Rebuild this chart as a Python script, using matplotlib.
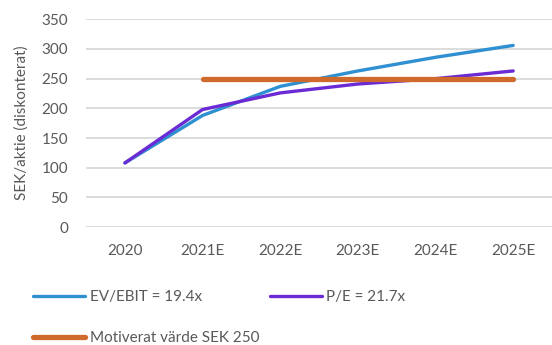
import matplotlib.pyplot as plt
from matplotlib.lines import Line2D

output = "out.png"
fz = 11

years = ['2020', '2021E', '2022E', '2023E', '2024E', '2025E']
ev_ebit = [108, 188, 237, 263, 286, 306]
pe = [108, 198, 226, 241, 250, 263]
target_years = ['2021E', '2022E', '2023E', '2024E', '2025E']
target = [250, 250, 250, 250, 250]

c_ev = '#2E8FD1'
c_pe = '#6A2BD4'
c_target = '#D0692C'
c_text = '#595959'

plt.rcParams['font.family'] = ['Lato', 'DejaVu Sans']

fig = plt.figure(figsize=(5.52, 3.45), dpi=100)
ax = fig.add_axes([0.156, 0.342, 0.844, 0.602])

x = range(len(years))
xt = [years.index(y) for y in target_years]

ax.plot(x, ev_ebit, color=c_ev, linewidth=2.4, solid_capstyle='round', zorder=3)
ax.plot(x, pe, color=c_pe, linewidth=2.4, solid_capstyle='round', zorder=3)
ax.plot(xt, target, color=c_target, linewidth=3.8, solid_capstyle='round', zorder=4)

ax.set_xlim(-0.5, len(years) - 0.5)
ax.set_ylim(0, 350)
ax.set_yticks(range(0, 351, 50))
ax.set_xticks(list(x))
ax.set_xticklabels(years)
ax.grid(axis='y', color='#D9D9D9', linewidth=1.3)
ax.set_axisbelow(True)
for s in ax.spines.values():
    s.set_visible(False)
ax.tick_params(length=0, labelsize=fz, colors=c_text)
ax.tick_params(axis='y', pad=13)
ax.tick_params(axis='x', pad=12)
ax.set_ylabel('SEK/aktie (diskonterat)', fontsize=fz, color=c_text, labelpad=9)

# legend: two columns, EV/EBIT + Motiverat in first column
handles = [
    Line2D([], [], color=c_ev, linewidth=2.4, solid_capstyle='round'),
    Line2D([], [], color=c_target, linewidth=3.8, solid_capstyle='round'),
    Line2D([], [], color=c_pe, linewidth=2.4, solid_capstyle='round'),
]
labels = ['EV/EBIT = 19.4x', 'Motiverat värde SEK 250', 'P/E = 21.7x']
leg = fig.legend(handles, labels, ncol=2, loc='upper left', bbox_to_anchor=(0.06, 0.158),
                 frameon=False, fontsize=fz, handlelength=3.4, handletextpad=0.3,
                 labelspacing=1.75, columnspacing=0.7, borderpad=0, borderaxespad=0)
for t in leg.get_texts():
    t.set_color(c_text)

plt.savefig(output, dpi=100)
plt.close()
